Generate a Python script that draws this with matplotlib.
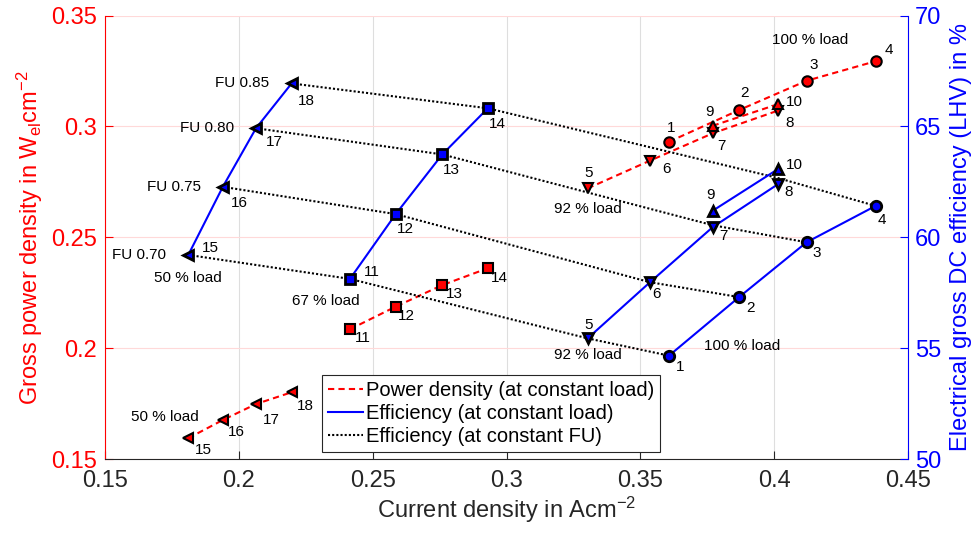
import matplotlib
matplotlib.use("Agg")
import matplotlib.pyplot as plt
from matplotlib.lines import Line2D

plt.rcParams["font.family"] = ["Liberation Sans", "DejaVu Sans"]
plt.rcParams["mathtext.default"] = "regular"

RED = "#ff0000"
BLUE = "#0000ff"
GRAY = "#262626"

# current density (A/cm2), power density (W/cm2), efficiency (%)
# 100 % load, points 1-4
j_100 = [0.3607, 0.3869, 0.4121, 0.4379]
p_100 = [0.2931, 0.3074, 0.3206, 0.3294]
eff_100 = [54.67, 57.31, 59.78, 61.42]

# 92 % load, points 5-8
j_92 = [0.3303, 0.3536, 0.3770, 0.4013]
p_92 = [0.2721, 0.2846, 0.2969, 0.3071]
eff_92 = [55.45, 57.98, 60.46, 62.39]

# 92 % load, points 9-10
j_92b = [0.3770, 0.4013]
p_92b = [0.3003, 0.3100]
eff_92b = [61.20, 63.07]

# 67 % load, points 11-14
j_67 = [0.2415, 0.2586, 0.2760, 0.2930]
p_67 = [0.2086, 0.2188, 0.2285, 0.2361]
eff_67 = [58.13, 61.05, 63.74, 65.82]

# 50 % load, points 15-18
j_50 = [0.1811, 0.1940, 0.2064, 0.2197]
p_50 = [0.1595, 0.1677, 0.1749, 0.1802]
eff_50 = [59.21, 62.28, 64.92, 66.94]

# constant FU curves cross the 92 % load line here
fu_eff_92 = [55.45, 57.98, 60.55, 62.68]
fu_labels = ["FU 0.70", "FU 0.75", "FU 0.80", "FU 0.85"]

# label offsets in pixels (dx, dy down), red then blue
groups = [
    (j_100, p_100, eff_100, "o", [1, 2, 3, 4],
     [(2, -14), (5, -17), (7, -16), (13, -11)],
     [(11, 11), (11, 11), (10, 11), (6, 14)]),
    (j_92, p_92, eff_92, "v", [5, 6, 7, 8],
     [(1, -15), (17, 8), (9, 13), (12, 12)],
     [(1, -13), (7, 12), (11, 9), (11, 8)]),
    (j_92b, p_92b, eff_92b, "^", [9, 10],
     [(-3, -14), (17, -2)],
     [(-2, -16), (17, -4)]),
    (j_67, p_67, eff_67, "s", [11, 12, 13, 14],
     [(13, 9), (11, 9), (12, 9), (12, 10)],
     [(22, -7), (10, 15), (9, 16), (10, 16)]),
    (j_50, p_50, eff_50, "<", [15, 16, 17, 18],
     [(15, 12), (14, 12), (15, 16), (14, 14)],
     [(22, -7), (17, 16), (18, 14), (15, 18)]),
]

fig = plt.figure(figsize=(9.79, 5.39), dpi=100)
ax1 = fig.add_axes([0.1073, 0.1479, 0.8202, 0.8233])
ax2 = ax1.twinx()

dash = (0, (3, 2))

# constant FU lines
for k in range(4):
    xs = [j_50[k], j_67[k], j_92[k], j_100[k]]
    ys = [eff_50[k], eff_67[k], fu_eff_92[k], eff_100[k]]
    ax2.plot(xs, ys, color="k", ls=(0, (1, 1)), lw=1.5, zorder=2)
    ax2.annotate(fu_labels[k], (j_50[k], eff_50[k]), xytext=(-22, 0),
                 textcoords="offset pixels", ha="right", va="center", fontsize=11)

for j, p, eff, m, nums, roff, boff in groups:
    ms = 6.5 if m == "s" else 7.5
    ax1.plot(j, p, color=RED, ls=dash, lw=1.5, marker=m, ms=ms,
             mfc=RED, mec="k", mew=1.5, zorder=3)
    ax2.plot(j, eff, color=BLUE, lw=1.5, marker=m, ms=ms,
             mfc=BLUE, mec="k", mew=2, zorder=3)
    for i, n in enumerate(nums):
        ax1.annotate(str(n), (j[i], p[i]), xytext=(roff[i][0], -roff[i][1]),
                     textcoords="offset pixels", ha="center", va="center", fontsize=11)
        ax2.annotate(str(n), (j[i], eff[i]), xytext=(boff[i][0], -boff[i][1]),
                     textcoords="offset pixels", ha="center", va="center", fontsize=11)

# load annotations
ax1.annotate("100 % load", (j_100[3], p_100[3]), xytext=(-66, 21),
             textcoords="offset pixels", ha="center", va="center", fontsize=11)
ax1.annotate("92 % load", (j_92[0], p_92[0]), xytext=(0, -21),
             textcoords="offset pixels", ha="center", va="center", fontsize=11)
ax1.annotate("50 % load", (j_50[0], p_50[0]), xytext=(-23, 21),
             textcoords="offset pixels", ha="center", va="center", fontsize=11)
ax2.annotate("100 % load", (j_100[0], eff_100[0]), xytext=(73, 10),
             textcoords="offset pixels", ha="center", va="center", fontsize=11)
ax2.annotate("92 % load", (j_92[0], eff_92[0]), xytext=(0, -17),
             textcoords="offset pixels", ha="center", va="center", fontsize=11)
ax2.annotate("67 % load", (j_67[0], eff_67[0]), xytext=(-24, -22),
             textcoords="offset pixels", ha="center", va="center", fontsize=11)
ax2.annotate("50 % load", (j_50[0], eff_50[0]), xytext=(0, -23),
             textcoords="offset pixels", ha="center", va="center", fontsize=11)

xt = [0.15, 0.2, 0.25, 0.3, 0.35, 0.4, 0.45]
ax1.set_xlim(0.15, 0.45)
ax1.set_xticks(xt)
ax1.set_xticklabels([f"{v:g}" for v in xt])
yt = [0.15, 0.2, 0.25, 0.3, 0.35]
ax1.set_ylim(0.15, 0.35)
ax1.set_yticks(yt)
ax1.set_yticklabels([f"{v:g}" for v in yt])
ax2.set_ylim(50, 70)
ax2.set_yticks([50, 55, 60, 65, 70])

ax1.set_axisbelow(True)
ax1.grid(axis="x", color="#dedede", lw=0.8)
ax1.grid(axis="y", color="#ffd9d9", lw=0.8)

for s in ["top", "right"]:
    ax1.spines[s].set_visible(False)
for s in ["top", "left", "bottom"]:
    ax2.spines[s].set_visible(False)
ax1.spines["left"].set_color(RED)
ax1.spines["bottom"].set_color(GRAY)
ax2.spines["right"].set_color(BLUE)

ax1.tick_params(axis="x", direction="in", length=6, colors=GRAY, labelsize=17, pad=8)
ax1.tick_params(axis="y", direction="in", length=6, colors=RED, labelsize=17, pad=6)
ax2.tick_params(axis="y", direction="in", length=6, colors=BLUE, labelsize=17, pad=5)

ax1.set_xlabel("Current density in Acm$^{-2}$", fontsize=17, color=GRAY, labelpad=2)
ax1.set_ylabel("Gross power density in W$_{el}$cm$^{-2}$", fontsize=17, color=RED, labelpad=4)
ax2.set_ylabel("Electrical gross DC efficiency (LHV) in %", fontsize=17, color=BLUE, labelpad=6)

handles = [
    Line2D([], [], color=RED, ls=dash, lw=1.5),
    Line2D([], [], color=BLUE, lw=1.5),
    Line2D([], [], color="k", ls=(0, (1, 1)), lw=1.5),
]
labels = ["Power density (at constant load)", "Efficiency (at constant load)",
          "Efficiency (at constant FU)"]
leg = ax2.legend(handles, labels, loc="lower left", bbox_to_anchor=(0.27, 0.017),
                 borderaxespad=0, fontsize=14.5, handlelength=1.75, handletextpad=0.15,
                 labelspacing=0.2, borderpad=0.3, fancybox=False, framealpha=1)
leg.get_frame().set_edgecolor(GRAY)
leg.get_frame().set_linewidth(0.8)

fig.savefig("out.png", dpi=100)
